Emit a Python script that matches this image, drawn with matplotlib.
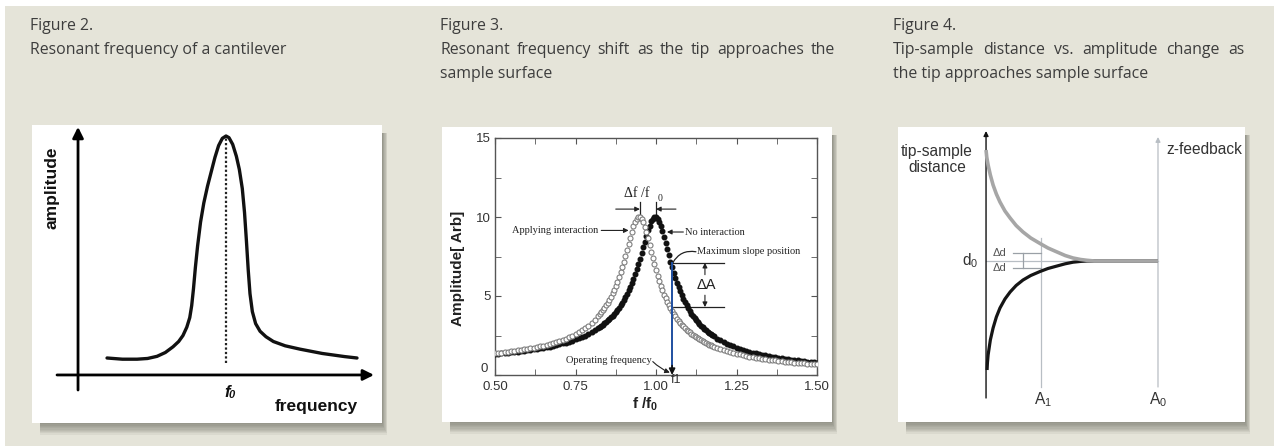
import matplotlib
matplotlib.use('Agg')
import matplotlib.pyplot as plt
from matplotlib.patches import Rectangle
from matplotlib.ticker import MultipleLocator

plt.rcParams['font.family'] = ['Liberation Sans', 'DejaVu Sans']
plt.rcParams['mathtext.fontset'] = 'custom'
plt.rcParams['mathtext.rm'] = 'Liberation Sans'
plt.rcParams['mathtext.it'] = 'Liberation Sans:italic'
plt.rcParams['mathtext.bf'] = 'Liberation Sans:bold'

W, H = 1274, 446

# Figure 2: schematic resonance curve (f / f0, amplitude / peak)
CANT_FREQ = [0.196, 0.30, 0.399, 0.47, 0.534, 0.59, 0.642, 0.68, 0.709, 0.735,
             0.755, 0.768, 0.780, 0.793, 0.808, 0.828, 0.850, 0.875, 0.900, 0.925,
             0.950, 0.975, 1.000, 1.020, 1.045, 1.070, 1.090, 1.110, 1.125, 1.138,
             1.150, 1.162, 1.178, 1.200, 1.230, 1.270, 1.320, 1.400, 1.500, 1.650,
             1.800, 1.885]
CANT_AMP = [0.071, 0.066, 0.066, 0.069, 0.078, 0.094, 0.118, 0.140, 0.165, 0.200,
            0.240, 0.290, 0.360, 0.450, 0.540, 0.640, 0.720, 0.790, 0.850, 0.910,
            0.960, 0.990, 1.000, 0.993, 0.965, 0.915, 0.860, 0.780, 0.680, 0.560,
            0.440, 0.340, 0.265, 0.215, 0.183, 0.160, 0.140, 0.122, 0.108, 0.090,
            0.077, 0.071]
CANT_F0 = 1.0

# Figure 3: amplitude vs f/f0, without and with tip-sample interaction
FREQ_RATIO = [
    0.50, 0.51, 0.52, 0.53, 0.54, 0.55, 0.56, 0.57, 0.58, 0.59, 0.60, 0.61, 0.62, 0.63,
    0.64, 0.65, 0.66, 0.67, 0.68, 0.69, 0.70, 0.71, 0.72, 0.73, 0.74, 0.75, 0.76, 0.77,
    0.78, 0.79, 0.80, 0.81,
    0.82, 0.825, 0.83, 0.835, 0.84, 0.845, 0.85, 0.855, 0.86, 0.865, 0.87, 0.875, 0.88,
    0.885, 0.89, 0.895, 0.90, 0.905, 0.91, 0.915, 0.92, 0.925, 0.93, 0.935, 0.94, 0.945,
    0.95, 0.955, 0.96, 0.965, 0.97, 0.975, 0.98, 0.985, 0.99, 0.995, 1.00, 1.005, 1.01,
    1.015, 1.02, 1.025, 1.03, 1.035, 1.04, 1.045, 1.05, 1.055, 1.06, 1.065, 1.07, 1.075,
    1.08, 1.085, 1.09, 1.095, 1.10, 1.105, 1.11, 1.115, 1.12, 1.125, 1.13, 1.135, 1.14,
    1.145, 1.15, 1.155, 1.16, 1.165, 1.17, 1.175, 1.18,
    1.19, 1.20, 1.21, 1.22, 1.23, 1.24, 1.25, 1.26, 1.27, 1.28, 1.29, 1.30, 1.31, 1.32,
    1.33, 1.34, 1.35, 1.36, 1.37, 1.38, 1.39, 1.40, 1.41, 1.42, 1.43, 1.44, 1.45, 1.46,
    1.47, 1.48, 1.49, 1.50]
AMP_FREE = [
    1.33, 1.35, 1.37, 1.39, 1.41, 1.43, 1.45, 1.48, 1.50, 1.53, 1.56, 1.59, 1.62, 1.65,
    1.68, 1.72, 1.76, 1.80, 1.85, 1.89, 1.94, 2.00, 2.05, 2.12, 2.18, 2.25, 2.33, 2.41,
    2.50, 2.60, 2.71, 2.83,
    2.96, 3.03, 3.11, 3.18, 3.27, 3.35, 3.45, 3.54, 3.65, 3.76, 3.87, 4.00, 4.13,
    4.27, 4.42, 4.58, 4.76, 4.94, 5.14, 5.36, 5.59, 5.83, 6.10, 6.38, 6.68, 7.01,
    7.35, 7.70, 8.07, 8.44, 8.80, 9.15, 9.46, 9.72, 9.90, 10.00, 10.00, 9.90, 9.71,
    9.44, 9.12, 8.75, 8.36, 7.96, 7.57, 7.18, 6.82, 6.47, 6.14, 5.84, 5.55, 5.29,
    5.04, 4.81, 4.60, 4.40, 4.22, 4.05, 3.89, 3.74, 3.60, 3.47, 3.34, 3.23, 3.12,
    3.02, 2.92, 2.83, 2.74, 2.66, 2.58, 2.51, 2.44,
    2.31, 2.19, 2.09, 1.99, 1.90, 1.81, 1.74, 1.66, 1.60, 1.54, 1.48, 1.42, 1.37, 1.33,
    1.28, 1.24, 1.20, 1.16, 1.13, 1.09, 1.06, 1.03, 1.00, 0.97, 0.95, 0.92, 0.90, 0.88,
    0.85, 0.83, 0.81, 0.79]
AMP_INTERACT = [
    1.38, 1.40, 1.42, 1.45, 1.47, 1.50, 1.53, 1.56, 1.59, 1.62, 1.65, 1.69, 1.73, 1.77,
    1.82, 1.86, 1.92, 1.97, 2.03, 2.09, 2.16, 2.23, 2.31, 2.40, 2.49, 2.60, 2.71, 2.84,
    2.98, 3.13, 3.30, 3.50,
    3.72, 3.84, 3.96, 4.10, 4.25, 4.41, 4.58, 4.76, 4.95, 5.16, 5.39, 5.64, 5.90,
    6.18, 6.49, 6.82, 7.17, 7.53, 7.91, 8.30, 8.69, 9.06, 9.40, 9.68, 9.89, 10.00,
    10.00, 9.89, 9.69, 9.39, 9.04, 8.65, 8.23, 7.81, 7.40, 7.01, 6.63, 6.28, 5.95,
    5.64, 5.36, 5.09, 4.85, 4.62, 4.41, 4.22, 4.04, 3.87, 3.72, 3.57, 3.43, 3.31,
    3.19, 3.08, 2.97, 2.87, 2.78, 2.69, 2.61, 2.53, 2.46, 2.38, 2.32, 2.25, 2.19,
    2.14, 2.08, 2.03, 1.98, 1.93, 1.88, 1.84, 1.80,
    1.72, 1.64, 1.57, 1.51, 1.45, 1.40, 1.35, 1.30, 1.25, 1.21, 1.17, 1.13, 1.10, 1.06,
    1.03, 1.00, 0.97, 0.94, 0.92, 0.89, 0.87, 0.85, 0.83, 0.80, 0.78, 0.77, 0.75, 0.73,
    0.71, 0.70, 0.68, 0.67]
PEAK_FREE = 1.00
PEAK_INTERACT = 0.95
OPERATING_F = 1.05
SLOPE_AMP_FREE = 7.1
SLOPE_AMP_INTERACT = 4.3

# Figure 4: tip-sample distance vs amplitude (A0 = 1, d0 = 0)
UPPER_X = [0.000, 0.004, 0.012, 0.025, 0.041, 0.060, 0.081, 0.110, 0.140, 0.175,
           0.215, 0.260, 0.314, 0.360, 0.413, 0.460, 0.506, 0.550, 0.587, 0.630, 1.000]
UPPER_Y = [1.11, 1.04, 0.96, 0.86, 0.76, 0.67, 0.59, 0.50, 0.43, 0.355,
           0.29, 0.23, 0.175, 0.13, 0.09, 0.055, 0.03, 0.015, 0.007, 0.0, 0.0]
LOWER_X = [0.006, 0.008, 0.012, 0.025, 0.041, 0.060, 0.081, 0.110, 0.140, 0.175,
           0.215, 0.260, 0.314, 0.360, 0.413, 0.460, 0.506, 0.550, 0.587, 1.000]
LOWER_Y = [-1.09, -1.02, -0.94, -0.79, -0.67, -0.56, -0.47, -0.38, -0.31, -0.245,
           -0.19, -0.145, -0.105, -0.075, -0.05, -0.028, -0.012, -0.004, 0.0, 0.0]
A1 = 0.32
A0 = 1.0
D0 = 0.0
DELTA_D = [0.08, -0.07]

BEIGE = '#e5e4d9'
TEXT = '#3d3d3d'
BOX_GRAY = '#b8bec4'


def px_axes(fig, x0, y0, x1, y1):
    return fig.add_axes([x0 / W, 1 - y1 / H, (x1 - x0) / W, (y1 - y0) / H])


def box_with_shadow(ax, x0, y0, x1, y1):
    for i in range(1, 10):
        ax.add_patch(Rectangle((x0 + 8, y0 + 8), x1 - x0 - 8 + i * 0.6, y1 - y0 - 8 + i * 1.3,
                               facecolor='#4a4a40', edgecolor='none', alpha=0.07, zorder=1))
    ax.add_patch(Rectangle((x0, y0), x1 - x0, y1 - y0, facecolor='white',
                           edgecolor='none', zorder=2))


def justified(ax, text, x0, x1, y, **kw):
    words = text.split()
    renderer = ax.figure.canvas.get_renderer()
    arts = [ax.text(0, y, w, va='center', ha='left', **kw) for w in words]
    widths = [a.get_window_extent(renderer).width for a in arts]
    gap = (x1 - x0 - sum(widths)) / (len(words) - 1)
    x = x0
    for a, w in zip(arts, widths):
        a.set_x(x)
        x += w + gap


fig = plt.figure(figsize=(W / 100, H / 100), dpi=100)
fig.patch.set_facecolor('white')

# background with captions and white boxes
bg = fig.add_axes([0, 0, 1, 1])
bg.set_xlim(0, W)
bg.set_ylim(H, 0)
bg.axis('off')
bg.add_patch(Rectangle((5, 6), W - 5, H - 6, facecolor=BEIGE, edgecolor='none', zorder=0))
box_with_shadow(bg, 32, 125, 382, 423)
box_with_shadow(bg, 442, 127, 832, 422)
box_with_shadow(bg, 898, 127, 1245, 422)

cap = dict(fontsize=11.4, color=TEXT, family=['Open Sans', 'DejaVu Sans'])
bg.text(30, 26, 'Figure 2.', va='center', **cap)
bg.text(30, 50, 'Resonant frequency of a cantilever', va='center', **cap)
bg.text(440, 26, 'Figure 3.', va='center', **cap)
justified(bg, 'Resonant frequency shift as the tip approaches the', 440, 835, 50, **cap)
bg.text(440, 74, 'sample surface', va='center', **cap)
bg.text(893, 26, 'Figure 4.', va='center', **cap)
justified(bg, 'Tip-sample distance vs. amplitude change as', 893, 1245, 50, **cap)
bg.text(893, 74, 'the tip approaches sample surface', va='center', **cap)

# ---- Figure 2 ----
ax1 = px_axes(fig, 32, 125, 382, 423)
ax1.set_xlim(-0.311, 2.054)
ax1.set_ylim(-0.201, 1.046)
ax1.axis('off')
arrow = dict(arrowstyle='-|>', lw=2, color='black', mutation_scale=16, shrinkA=0, shrinkB=0)
ax1.annotate('', xy=(2.0, 0), xytext=(-0.142, 0), arrowprops=arrow)
ax1.annotate('', xy=(0, 1.038), xytext=(0, -0.063), arrowprops=arrow)
ax1.plot(CANT_FREQ, CANT_AMP, color='#111111', lw=2.4, solid_capstyle='round',
         solid_joinstyle='round')
ax1.plot([CANT_F0, CANT_F0], [0.05, 0.99], color='#222222', lw=1.6, linestyle=(0, (1, 1)))
ax1.text(-0.176, 0.782, 'amplitude', rotation=90, ha='center', va='center',
         fontsize=12.5, fontweight='bold', color='#111111')
ax1.text(1.608, -0.134, 'frequency', ha='center', va='center',
         fontsize=12.5, fontweight='bold', color='#111111')
ax1.text(1.005, -0.072, 'f', ha='center', va='center', fontsize=12,
         fontweight='bold', fontstyle='italic', color='#111111')
ax1.text(1.035, -0.085, '0', ha='center', va='center', fontsize=8,
         fontweight='bold', fontstyle='italic', color='#111111')

# ---- Figure 3 ----
ax2 = px_axes(fig, 495, 138, 817, 375)
ax2.set_xlim(0.5, 1.5)
ax2.set_ylim(0, 15)
ax2.plot(FREQ_RATIO, AMP_FREE, 'o', ms=3.3, color='#111111', mec='#111111', zorder=3)
ax2.plot(FREQ_RATIO, AMP_INTERACT, 'o', ms=3.6, mfc='white', mec='#7d7d7d', mew=0.8, zorder=4)
ax2.set_xticks([0.5, 0.75, 1.0, 1.25, 1.5])
ax2.set_xticklabels(['0.50', '0.75', '1.00', '1.25', '1.50'])
ax2.set_yticks([0, 5, 10, 15])
ax2.set_yticklabels(['', '5', '10', '15'])
ax2.xaxis.set_minor_locator(MultipleLocator(0.125))
ax2.yaxis.set_minor_locator(MultipleLocator(2.5))
ax2.tick_params(which='both', direction='in', top=True, right=True, color='#555555',
                labelsize=9.5, labelcolor='#333333', length=4)
ax2.tick_params(axis='x', pad=4)
ax2.tick_params(axis='y', pad=3)
for s in ax2.spines.values():
    s.set_color('#555555')
    s.set_linewidth(1)
# "0" of the y axis sits a little above the corner, clear of "0.50"
ax2.text(-0.022, 0.35, '0', transform=ax2.get_yaxis_transform(), ha='right', va='center',
         fontsize=9.5, color='#333333')
ax2.set_ylabel('Amplitude[ Arb]', fontsize=11, fontweight='bold', color='#222222')
ax2.yaxis.set_label_coords(-0.092, 0.45)
ax2.set_xlabel(r'$\mathbf{f\ /f_0}$', fontsize=11, color='#222222')
ax2.xaxis.set_label_coords(0.466, -0.085)

serif = dict(family=['Liberation Serif', 'DejaVu Serif'], fontsize=7.5, color='#222222')
small_arrow = dict(arrowstyle='-|>', lw=0.8, color='#222222', mutation_scale=7,
                   shrinkA=0, shrinkB=0)
plain = dict(arrowstyle='-', lw=0.9, color='#222222', shrinkA=0, shrinkB=0)

# peak shift marker
for pk in (PEAK_INTERACT, PEAK_FREE):
    ax2.plot([pk, pk], [10.2, 10.95], color='#222222', lw=0.9)
ax2.annotate('', xy=(PEAK_INTERACT, 10.5), xytext=(0.875, 10.5), arrowprops=small_arrow)
ax2.annotate('', xy=(PEAK_FREE, 10.5), xytext=(1.062, 10.5), arrowprops=small_arrow)
ax2.text(0.941, 11.5, 'Δf /f', ha='center', va='center',
         family=['Liberation Serif', 'DejaVu Serif'], fontsize=10, color='#222222')
ax2.text(1.013, 11.2, '0', ha='center', va='center', family=['Liberation Serif'],
         fontsize=7, color='#222222')

ax2.text(0.822, 9.15, 'Applying interaction', ha='right', va='center', **serif)
ax2.annotate('', xy=(0.915, 9.15), xytext=(0.83, 9.15), arrowprops=small_arrow)
ax2.text(1.09, 9.05, 'No interaction', ha='left', va='center', **serif)
ax2.annotate('', xy=(1.034, 9.05), xytext=(1.085, 9.05), arrowprops=small_arrow)
ax2.text(1.128, 7.8, 'Maximum slope position', ha='left', va='center', **serif)
ax2.annotate('', xy=(OPERATING_F + 0.002, SLOPE_AMP_FREE), xytext=(1.124, 7.8),
             arrowprops=dict(plain, connectionstyle='arc3,rad=0.35'))

# delta A
ax2.plot([OPERATING_F, 1.21], [SLOPE_AMP_FREE, SLOPE_AMP_FREE], color='#222222', lw=0.9)
ax2.plot([OPERATING_F, 1.21], [SLOPE_AMP_INTERACT, SLOPE_AMP_INTERACT], color='#222222', lw=0.9)
ax2.annotate('', xy=(1.152, SLOPE_AMP_FREE), xytext=(1.152, 6.35), arrowprops=small_arrow)
ax2.annotate('', xy=(1.152, SLOPE_AMP_INTERACT), xytext=(1.152, 5.05), arrowprops=small_arrow)
ax2.text(1.157, 5.7, 'ΔA', ha='center', va='center', fontsize=10.5, color='#222222')

# operating frequency
ax2.plot([OPERATING_F, OPERATING_F], [0.3, SLOPE_AMP_FREE], color='#1f4fa0', lw=1.4, zorder=5)
ax2.annotate('', xy=(OPERATING_F, 0.0), xytext=(OPERATING_F, 0.6),
             arrowprops=dict(arrowstyle='-|>', lw=1.2, color='#111111', mutation_scale=9,
                             shrinkA=0, shrinkB=0), zorder=6)
ax2.text(0.988, 0.95, 'Operating frequency', ha='right', va='center', **serif)
ax2.annotate('', xy=(1.043, 0.15), xytext=(0.99, 0.85),
             arrowprops=dict(small_arrow, connectionstyle='arc3,rad=0.1'))
ax2.text(1.061, -0.022, 'f1', transform=ax2.get_xaxis_transform(), ha='center',
         va='center', fontsize=9, color='#333333')

# ---- Figure 4 ----
ax3 = px_axes(fig, 898, 127, 1245, 422)
ax3.set_xlim(-0.512, 1.506)
ax3.set_ylim(-1.61, 1.34)
ax3.axis('off')
ax3.plot([0, A0], [D0, D0], color=BOX_GRAY, lw=0.9, zorder=1)
ax3.plot([A1, A1], [-1.26, 0.23], color=BOX_GRAY, lw=0.9, zorder=1)
ax3.annotate('', xy=(A0, 1.24), xytext=(A0, -1.26),
             arrowprops=dict(arrowstyle='-|>', lw=0.9, color=BOX_GRAY, mutation_scale=7,
                             shrinkA=0, shrinkB=0))
ax3.annotate('', xy=(0, 1.30), xytext=(0, -1.37),
             arrowprops=dict(arrowstyle='-|>', lw=1.0, color='#111111', mutation_scale=7,
                             shrinkA=0, shrinkB=0))
ax3.plot(LOWER_X, LOWER_Y, color='#151515', lw=2.3, solid_capstyle='butt', zorder=3)
ax3.plot(UPPER_X, UPPER_Y, color='#a6a6a6', lw=2.6, solid_capstyle='butt', zorder=4)

# delta d bracket
for dd in DELTA_D:
    ax3.plot([0.157, A1], [dd, dd], color='#9aa0a6', lw=0.9, zorder=2)
    ax3.text(0.081, dd, 'Δd', ha='center', va='center', fontsize=8, color='#555555')
ax3.plot([0.215, 0.215], DELTA_D, color='#9aa0a6', lw=0.9, zorder=2)

lab = dict(fontsize=11.2, color='#333333')
ax3.text(-0.285, 1.09, 'tip-sample', ha='center', va='center', **lab)
ax3.text(-0.285, 0.93, 'distance', ha='center', va='center', **lab)
ax3.text(1.05, 1.11, 'z-feedback', ha='left', va='center', **lab)
ax3.text(-0.047, D0, r'd$_0$', ha='right', va='center', **lab)
ax3.text(A1 + 0.01, -1.39, r'A$_1$', ha='center', va='center', **lab)
ax3.text(A0, -1.39, r'A$_0$', ha='center', va='center', **lab)

fig.savefig('out.png', dpi=100, facecolor=fig.get_facecolor())
